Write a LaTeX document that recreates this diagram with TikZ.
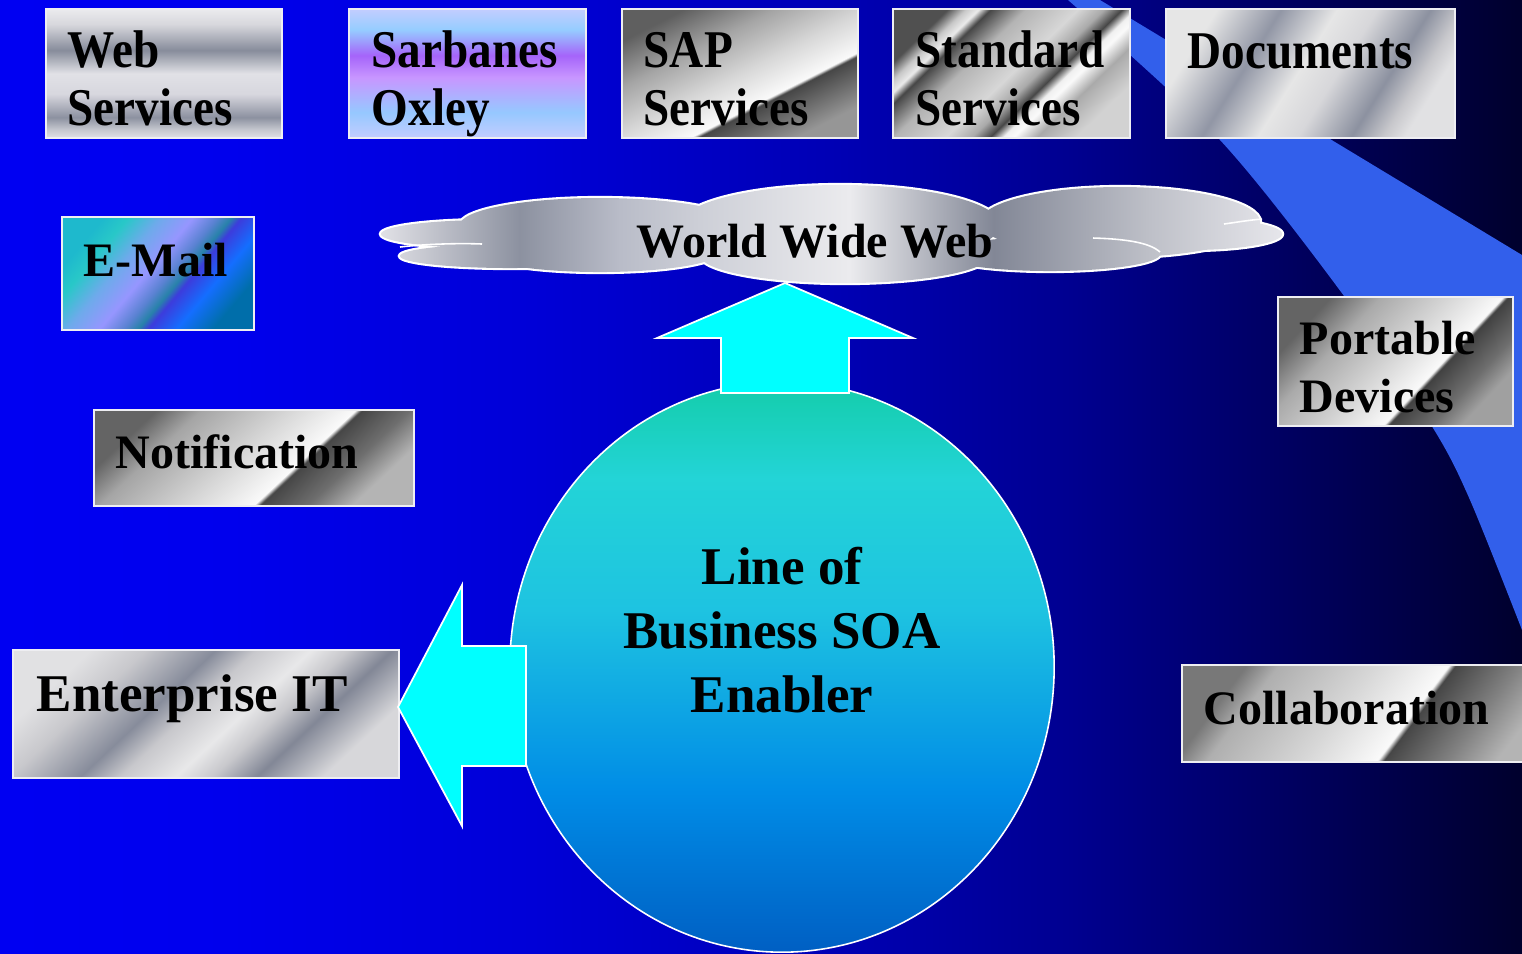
\documentclass[tikz,border=0pt]{standalone}
\usepackage{fontspec}
\setmainfont{Liberation Serif}
\newfontfamily\condserif{Liberation Serif}[FakeStretch=0.89]
\usetikzlibrary{shapes.geometric}

\definecolor{swooshblue}{RGB}{50,95,235}
\definecolor{arrowcyan}{RGB}{0,255,255}
\definecolor{rimwhite}{RGB}{238,238,242}

% background (left -> right)
\pgfdeclarehorizontalshading{bgsh}{100bp}{rgb(0bp)=(0,0,.95); rgb(25bp)=(0,0,.95); rgb(32.5bp)=(0,0,.93); rgb(42.5bp)=(0,0,.843); rgb(52.5bp)=(0,0,.706); rgb(60bp)=(0,0,.569); rgb(67.5bp)=(0,0,.373); rgb(75bp)=(0,0,.176); rgb(100bp)=(0,0,.176)}
% cloud (left -> right)
\pgfdeclarehorizontalshading{cloudsh}{100bp}{rgb(0bp)=(.882,.882,.902); rgb(25bp)=(.882,.882,.902); rgb(32.7bp)=(.549,.569,.627); rgb(38.25bp)=(.725,.737,.784); rgb(42.7bp)=(.804,.812,.843); rgb(51bp)=(.922,.922,.933); rgb(59bp)=(.51,.529,.588); rgb(67.65bp)=(.745,.753,.784); rgb(75bp)=(.902,.902,.922); rgb(100bp)=(.902,.902,.922)}
% ellipse (bottom -> top)
\pgfdeclareverticalshading{ellsh}{100bp}{rgb(0bp)=(0,.373,.765); rgb(25bp)=(0,.373,.765); rgb(39bp)=(0,.549,.902); rgb(55bp)=(.118,.765,.882); rgb(66.5bp)=(.137,.831,.843); rgb(75bp)=(.078,.804,.667); rgb(100bp)=(.078,.804,.667)}
% web services (bottom -> top)
\pgfdeclareverticalshading{websh}{100bp}{rgb(0bp)=(.882,.882,.902); rgb(25bp)=(.882,.882,.902); rgb(28.5bp)=(.765,.773,.804); rgb(33bp)=(.549,.569,.627); rgb(42bp)=(.843,.843,.871); rgb(50bp)=(.882,.882,.902); rgb(55bp)=(.686,.698,.737); rgb(59bp)=(.529,.549,.608); rgb(69bp)=(.843,.843,.863); rgb(75bp)=(.922,.922,.933); rgb(100bp)=(.922,.922,.933)}
% sarbanes (bottom -> top)
\pgfdeclareverticalshading{sarbsh}{100bp}{rgb(0bp)=(.765,.804,1); rgb(25bp)=(.765,.804,1); rgb(35bp)=(.588,.784,1); rgb(48.5bp)=(.784,.588,1); rgb(57bp)=(.647,.392,.98); rgb(67bp)=(.588,.804,1); rgb(75bp)=(.765,.804,1); rgb(100bp)=(.765,.804,1)}
% chrome variants (upper left -> lower right)
\pgfdeclarehorizontalshading{sapsh}{100bp}{rgb(0bp)=(.373,.373,.373); rgb(25bp)=(.373,.373,.373); rgb(37.5bp)=(.647,.647,.647); rgb(50bp)=(.843,.843,.843); rgb(60.5bp)=(.98,.98,.98); rgb(61.5bp)=(.275,.275,.275); rgb(75bp)=(.588,.588,.588); rgb(100bp)=(.588,.588,.588)}
\pgfdeclarehorizontalshading{notsh}{100bp}{rgb(0bp)=(.392,.392,.392); rgb(25bp)=(.392,.392,.392); rgb(32.5bp)=(.647,.647,.647); rgb(47.5bp)=(.843,.843,.843); rgb(58.5bp)=(.98,.98,.98); rgb(59.5bp)=(.275,.275,.275); rgb(67.5bp)=(.431,.431,.431); rgb(75bp)=(.706,.706,.706); rgb(100bp)=(.706,.706,.706)}
\pgfdeclarehorizontalshading{collsh}{100bp}{rgb(0bp)=(.471,.471,.471); rgb(25bp)=(.471,.471,.471); rgb(30bp)=(.686,.686,.686); rgb(45bp)=(.843,.843,.843); rgb(56.5bp)=(.98,.98,.98); rgb(57.5bp)=(.275,.275,.275); rgb(67.5bp)=(.51,.51,.51); rgb(75bp)=(.706,.706,.706); rgb(100bp)=(.706,.706,.706)}
\pgfdeclarehorizontalshading{portsh}{100bp}{rgb(0bp)=(.392,.392,.392); rgb(25bp)=(.392,.392,.392); rgb(35bp)=(.667,.667,.667); rgb(47.5bp)=(.824,.824,.824); rgb(59.5bp)=(.98,.98,.98); rgb(60.5bp)=(.255,.255,.255); rgb(69bp)=(.431,.431,.431); rgb(75bp)=(.627,.627,.627); rgb(100bp)=(.627,.627,.627)}
\pgfdeclarehorizontalshading{stdsh}{100bp}{rgb(0bp)=(.314,.314,.314); rgb(25bp)=(.314,.314,.314); rgb(28.5bp)=(.784,.784,.784); rgb(31bp)=(.922,.922,.922); rgb(33.25bp)=(.275,.275,.275); rgb(40bp)=(.706,.706,.706); rgb(50bp)=(.843,.843,.843); rgb(55bp)=(.667,.667,.667); rgb(58.5bp)=(.275,.275,.275); rgb(61bp)=(.941,.941,.941); rgb(63bp)=(.98,.98,.98); rgb(67.5bp)=(.667,.667,.667); rgb(75bp)=(.824,.824,.824); rgb(100bp)=(.824,.824,.824)}
% silver variants
\pgfdeclarehorizontalshading{docsh}{100bp}{rgb(0bp)=(.902,.902,.902); rgb(25bp)=(.902,.902,.902); rgb(37bp)=(.569,.588,.647); rgb(47.5bp)=(.902,.902,.902); rgb(55bp)=(.843,.843,.855); rgb(65bp)=(.549,.569,.627); rgb(71bp)=(.784,.784,.8); rgb(75bp)=(.882,.882,.89); rgb(100bp)=(.882,.882,.89)}
\pgfdeclarehorizontalshading{entsh}{100bp}{rgb(0bp)=(.882,.882,.89); rgb(25bp)=(.882,.882,.89); rgb(32.5bp)=(.784,.784,.8); rgb(42bp)=(.529,.549,.608); rgb(47.5bp)=(.784,.784,.8); rgb(55bp)=(.91,.91,.915); rgb(60bp)=(.784,.784,.8); rgb(66bp)=(.51,.529,.588); rgb(75bp)=(.843,.843,.855); rgb(100bp)=(.843,.843,.855)}
% e-mail
\pgfdeclarehorizontalshading{mailsh}{100bp}{rgb(0bp)=(.118,.725,.804); rgb(25bp)=(.118,.725,.804); rgb(31bp)=(.157,.784,.784); rgb(39bp)=(.431,.667,.922); rgb(47bp)=(.588,.588,1); rgb(53bp)=(.353,.51,.824); rgb(56.5bp)=(.157,.51,.667); rgb(59bp)=(.235,.235,.863); rgb(66bp)=(.078,.431,1); rgb(75bp)=(0,.431,.667); rgb(100bp)=(0,.431,.667)}

\begin{document}
\begin{tikzpicture}[x=0.01cm,y=-0.01cm,
  box/.style={rectangle, shade, draw=rimwhite, line width=0.6pt, inner sep=0pt},
  lbltall/.style={inner sep=0pt, anchor=base west, align=left, text=black,
    font=\condserif\bfseries\fontsize{15.08pt}{16.22pt}\selectfont},
  lbl/.style={inner sep=0pt, anchor=base west, align=left, text=black,
    font=\bfseries\fontsize{13.66pt}{16.5pt}\selectfont},
  lblbig/.style={inner sep=0pt, anchor=base west, align=left, text=black,
    font=\bfseries\fontsize{15.08pt}{18.07pt}\selectfont},
  blockarrow/.style={fill=arrowcyan, draw=white, line width=0.5pt, line join=miter},
  cloudrim/.style={draw=white, line width=1.2pt},
  cloudline/.style={draw=white, line width=0.45pt}
]
\clip (0,0) rectangle (1522,953);
% background
\shade[shading=bgsh] (0,0) rectangle (1522,953);
% swoosh
\fill[swooshblue] (1100,0) -- (1522,255) -- (1522,640)
  -- plot[smooth] coordinates {(1522,630) (1470,500) (1433,428) (1347,300) (1220,140) (1068,0)} -- cycle;

% boxes
\node[box, shading=websh, minimum width=2.36cm, minimum height=1.29cm] (web) at (164,73.5) {};
\node[box, shading=sarbsh, minimum width=2.37cm, minimum height=1.29cm] (sox) at (467.5,73.5) {};
\node[box, shading=sapsh, shading angle=-63, minimum width=2.36cm, minimum height=1.29cm] (sap) at (740,73.5) {};
\node[box, shading=stdsh, shading angle=-46, minimum width=2.37cm, minimum height=1.29cm] (std) at (1011.5,73.5) {};
\node[box, shading=docsh, shading angle=-32, minimum width=2.89cm, minimum height=1.29cm] (doc) at (1310.5,73.5) {};
\node[box, shading=mailsh, shading angle=-40, minimum width=1.92cm, minimum height=1.13cm] (mail) at (158,273.5) {};
\node[box, shading=notsh, shading angle=-47, minimum width=3.2cm, minimum height=0.96cm] (notif) at (254,458) {};
\node[box, shading=entsh, shading angle=-47, minimum width=3.86cm, minimum height=1.28cm] (ent) at (206,714) {};
\node[box, shading=portsh, shading angle=-43, minimum width=2.35cm, minimum height=1.29cm] (port) at (1395.5,361.5) {};
\node[box, shading=collsh, shading angle=-37, minimum width=3.78cm, minimum height=0.97cm] (coll) at (1371,713.5) {};

% central ellipse
\node[ellipse, shade, shading=ellsh, draw=white, line width=0.45pt, inner sep=0pt,
  minimum width=5.44cm, minimum height=5.7cm] (lob) at (782,667) {};

% block arrows
\draw[blockarrow] (785,283) -- (913,338) -- (849,338) -- (849,393) -- (721,393) -- (721,338) -- (657,338) -- cycle;
\draw[blockarrow] (398,707) -- (462,585) -- (462,646) -- (526,646) -- (526,766) -- (462,766) -- (462,826) -- cycle;

% cloud
\def\cloudpath{
  (490,234) ellipse [x radius=1.09cm, y radius=0.14cm]
  (510,256) ellipse [x radius=1.10cm, y radius=0.12cm]
  (600,225) ellipse [x radius=1.40cm, y radius=0.27cm]
  (840,225) ellipse [x radius=1.60cm, y radius=0.40cm]
  (1120,222) ellipse [x radius=1.40cm, y radius=0.35cm]
  (1190,234) ellipse [x radius=0.92cm, y radius=0.16cm]
  (1050,254) ellipse [x radius=1.10cm, y radius=0.17cm]
  (845,255) ellipse [x radius=1.45cm, y radius=0.28cm]
  (600,252) ellipse [x radius=1.20cm, y radius=0.20cm]}
\draw[cloudrim] \cloudpath;
\shade[shading=cloudsh] \cloudpath;
\draw[cloudline] (400,247) .. controls (425,244) and (460,243) .. (482,244);
\draw[cloudline] (1093,238) .. controls (1128,239) and (1150,243) .. (1160,252);
\draw[cloudline] (1224,224) .. controls (1238,222) and (1250,220) .. (1262,219);

% texts (base anchor = baseline of the last line)
\node[lbltall] (webt) at (67,125) {Web\\Services};
\node[lbltall] (soxt) at (371,125) {Sarbanes\\Oxley};
\node[lbltall] (sapt) at (643,125) {SAP\\Services};
\node[lbltall] (stdt) at (915,125) {Standard\\Services};
\node[lbltall] (doct) at (1187,68) {Documents};
\node[lbl] (mailt) at (83,276) {E-Mail};
\node[lbl] (notift) at (115,468) {Notification};
\node[lblbig] (entt) at (36,711) {Enterprise IT};
\node[lbl] (portt) at (1299,412) {Portable\\Devices};
\node[lbl] (collt) at (1203,724) {Collaboration};
\node[lbl] (www) at (636,257) {World Wide Web};
\node[lblbig, anchor=base, align=center] (lobt) at (782,712) {Line of\\Business SOA\\Enabler};
\end{tikzpicture}
\end{document}
